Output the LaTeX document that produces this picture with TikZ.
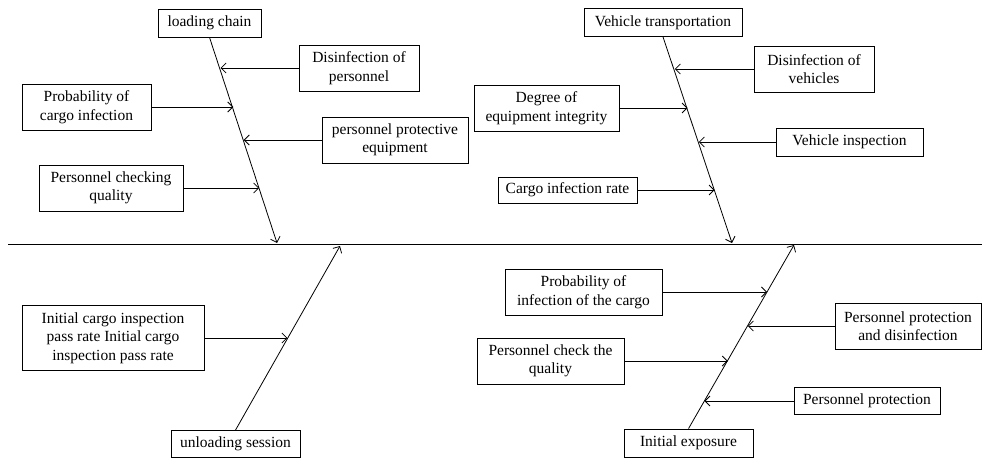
\documentclass[tikz,border=0pt]{standalone}
\usepackage{fontspec}
\setmainfont{Liberation Serif}
\newfontfamily\figfont{Liberation Serif}
\usetikzlibrary{arrows.meta}
\begin{document}
\begin{tikzpicture}[x=1pt,y=-1pt,
  every node/.style={font=\figfont\fontsize{15.5}{18.5}\selectfont},
  cbox/.style={draw,line width=0.8pt,inner sep=0pt,align=center,minimum width=#1},
  bone/.style={line width=0.8pt,-{Straight Barb[length=5pt,width=10pt]}},
  spine/.style={line width=1pt}]
\useasboundingbox (0,0) rectangle (982,458);
% main line
\coordinate (m0) at (8,244);
\coordinate (m1) at (982,244);
\draw[spine] (m0) -- (m1);
% top-left: loading chain
\node[cbox=103pt,minimum height=28pt] (lc) at (209.5,23) {loading chain};
\coordinate (lcE) at (277,243);
\draw[bone] (lc.south) -- (lcE);
\node[cbox=120pt,minimum height=46pt] (dp) at (359,68) {Disinfection of\\personnel};
\coordinate (dpE) at (220.5,68);
\draw[bone] (dp.west) -- (dpE);
\node[cbox=129pt,minimum height=46pt] (pc) at (86.5,107) {Probability of\\cargo infection};
\coordinate (pcE) at (233.3,107);
\draw[bone] (pc.east) -- (pcE);
\node[cbox=146pt,minimum height=46pt] (pp) at (395,140) {personnel protective\\equipment};
\coordinate (ppE) at (243.7,140);
\draw[bone] (pp.west) -- (ppE);
\node[cbox=144pt,minimum height=46pt] (pq) at (111,188) {Personnel checking\\quality};
\coordinate (pqE) at (259.2,188);
\draw[bone] (pq.east) -- (pqE);
% top-right: vehicle transportation
\node[cbox=158pt,minimum height=28pt] (vt) at (663,22.5) {Vehicle transportation};
\coordinate (vtE) at (732,243);
\draw[bone] (vt.south) -- (vtE);
\node[cbox=120pt,minimum height=46pt] (dv) at (814,69) {Disinfection of\\vehicles};
\coordinate (dvE) at (674.8,69);
\draw[bone] (dv.west) -- (dvE);
\node[cbox=145pt,minimum height=46pt] (de) at (546.5,108) {Degree of\\equipment integrity};
\coordinate (deE) at (687.6,108);
\draw[bone] (de.east) -- (deE);
\node[cbox=147pt,minimum height=28pt] (vi) at (849.5,142) {Vehicle inspection};
\coordinate (viE) at (698.8,142);
\draw[bone] (vi.west) -- (viE);
\node[cbox=139pt,minimum height=26pt] (cr) at (567.5,190) {Cargo infection rate};
\coordinate (crE) at (714.6,190);
\draw[bone] (cr.east) -- (crE);
% bottom-left: unloading session
\node[cbox=129pt,minimum height=27pt] (us) at (235.5,444) {unloading session};
\coordinate (usE) at (340,246);
\draw[bone] (us.north) -- (usE);
\node[cbox=182pt,minimum height=65pt] (ic) at (113,338) {Initial cargo inspection\\pass rate Initial cargo\\inspection pass rate};
\coordinate (icE) at (287.4,338);
\draw[bone] (ic.east) -- (icE);
% bottom-right: initial exposure
\node[cbox=129pt,minimum height=28pt] (ie) at (688.5,443) {Initial exposure};
\coordinate (ieE) at (794,245);
\draw[bone] (ie.north) -- (ieE);
\node[cbox=157pt,minimum height=46pt] (pi) at (583.5,292) {Probability of\\infection of the cargo};
\coordinate (piE) at (767,292);
\draw[bone] (pi.east) -- (piE);
\node[cbox=146pt,minimum height=46pt] (pd) at (908,326) {Personnel protection\\and disinfection};
\coordinate (pdE) at (747.8,326);
\draw[bone] (pd.west) -- (pdE);
\node[cbox=147pt,minimum height=46pt] (pt) at (550.5,361) {Personnel check the\\quality};
\coordinate (ptE) at (727.8,361);
\draw[bone] (pt.east) -- (ptE);
\node[cbox=146pt,minimum height=27pt] (pr) at (867,401) {Personnel protection};
\coordinate (prE) at (704.4,401);
\draw[bone] (pr.west) -- (prE);
\end{tikzpicture}
\end{document}
